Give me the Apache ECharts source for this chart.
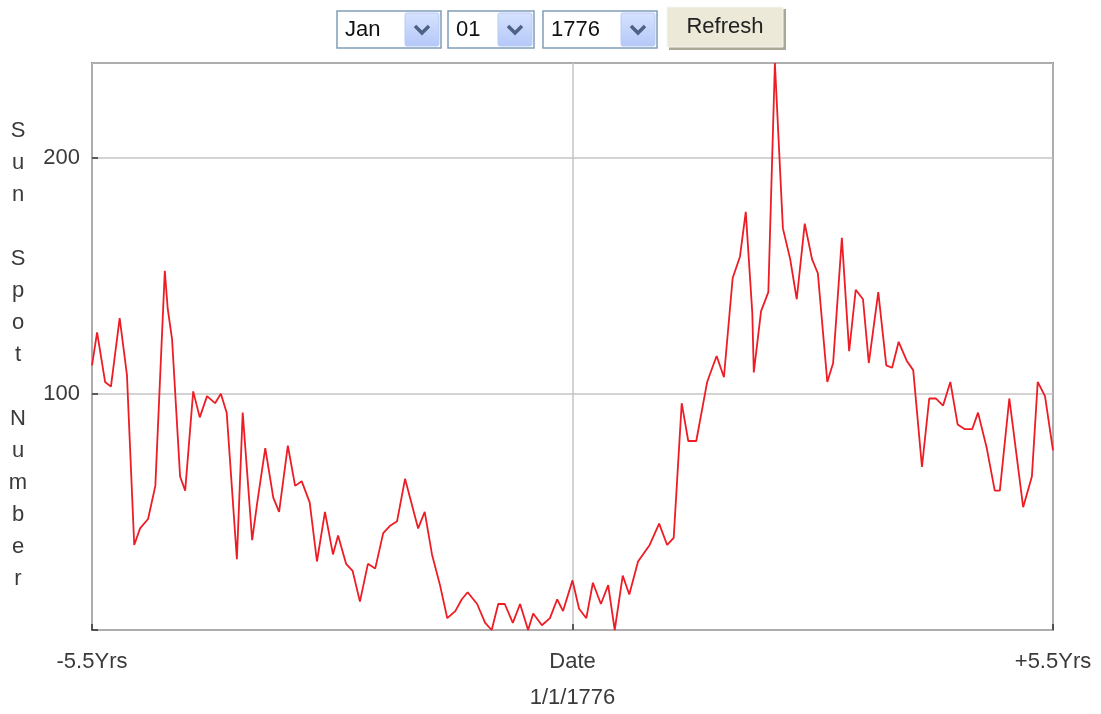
<!DOCTYPE html>
<html>
<head>
<meta charset="utf-8">
<script src="https://cdn.jsdelivr.net/npm/echarts@6/dist/echarts.min.js"></script>
<style>
html,body{margin:0;padding:0;background:#fff;}
#chart{width:1101px;height:714px;}
</style>
</head>
<body>
<div id="chart"></div>
<script>
// months relative to 1 Jan 1776
const monthOffset = [-66.0,-65.3,-64.2,-63.4,-62.2,-61.2,-60.2,-59.4,-58.3,-57.3,
  -56.0,-55.6,-55.0,-53.9,-53.2,-52.1,-51.2,-50.2,-49.1,-48.3,
  -47.5,-46.1,-45.3,-44.6,-44.0,-43.3,-42.2,-41.1,-40.3,-39.1,
  -38.1,-37.2,-36.1,-35.1,-34.0,-32.9,-32.2,-31.1,-30.2,-29.2,
  -28.1,-27.1,-26.0,-25.1,-24.1,-23.0,-21.2,-20.3,-19.3,-18.2,
  -17.2,-16.1,-15.2,-14.4,-13.1,-12.0,-11.1,-10.2,-9.3,-8.2,
  -7.2,-6.1,-5.4,-4.2,-3.1,-2.1,-1.3,0.0,0.9,1.9,
  2.8,3.9,4.9,5.8,6.9,7.8,9.0,10.6,11.9,13.0,
  13.9,15.0,15.9,17.0,18.5,19.2,19.8,20.8,22.0,23.0,
  23.8,24.7,24.9,25.9,26.9,27.8,28.9,29.9,30.8,31.9,
  32.9,33.7,35.0,35.8,37.0,38.0,38.9,39.9,40.7,42.0,
  43.1,43.9,44.8,45.9,46.8,48.0,49.0,49.9,50.9,51.9,
  52.9,53.9,54.9,55.7,56.9,58.0,58.7,60.0,61.9,63.1,
  63.9,64.9,66.0];
const sunSpots = [112,126,105,103,132,108,36,43,47,61,
  152,136,123,65,59,101,90,99,96,100,
  92,30,92,63,38,54,77,56,50,78,
  61,63,54,29,50,32,40,28,25,12,
  28,26,41,44,46,64,43,50,32,19,
  5,8,13,16,11,3,0,11,11,3,
  11,0,7,2,5,13,8,21,9,5,
  20,11,19,0,23,15,29,36,45,36,
  39,96,80,80,105,111,116,107,149,158,
  177,134,109,135,143,240,170,157,140,172,
  157,151,105,113,166,118,144,140,113,143,
  112,111,122,114,110,69,98,98,95,105,
  87,85,85,92,77,59,59,98,52,65,
  105,99,76];
const xTickLabels = {'-66':'-5.5Yrs','0':'Date','66':'+5.5Yrs'};
const yTickValues = [100, 200];
const centerDate = '1/1/1776';
const yTitle = 'Sun Spot Number';
const months = ['Jan'];
const days = ['01'];
const years = ['1776'];

const FONT = 'Liberation Sans, Arial, sans-serif';
const chart = echarts.init(document.getElementById('chart'), null, {renderer:'canvas'});

function selectBox(x, w, label){
  const btnW = 34;
  return [
    {type:'rect', shape:{x:x, y:11, width:w, height:37}, style:{fill:'#fff', stroke:'#7f9db9', lineWidth:1.5}},
    {type:'rect', shape:{x:x+w-btnW-2, y:13, width:btnW, height:33, r:2},
      style:{fill:new echarts.graphic.LinearGradient(0,0,0,1,[{offset:0,color:'#d6e2fe'},{offset:1,color:'#b4c8f8'}]), stroke:'#b9cbf3', lineWidth:1}},
    {type:'polyline', shape:{points:[[x+w-btnW-2+10,26],[x+w-btnW-2+17,33],[x+w-btnW-2+24,26]]},
      style:{stroke:'#4d6185', lineWidth:3.5, fill:null}},
    {type:'text', x:x+8, y:30, style:{text:label, font:'22px '+FONT, fill:'#111', verticalAlign:'middle', textAlign:'left'}}
  ];
}

const g = [].concat(
  selectBox(337, 104, months[0]),
  selectBox(448, 86, days[0]),
  selectBox(543, 114, years[0]),
  [
    {type:'rect', shape:{x:669, y:9, width:117, height:41}, style:{fill:'#a9a795'}},
    {type:'rect', shape:{x:667, y:7, width:116, height:40}, style:{fill:'#ece9d8', stroke:'#f7f6ef', lineWidth:1}},
    {type:'text', x:725, y:27, style:{text:'Refresh', font:'22px '+FONT, fill:'#222', textAlign:'center', verticalAlign:'middle'}},
    {type:'text', x:18, y:355, style:{text:yTitle.split('').join('\n').replace(/\n \n/g,'\n\n'),
      font:'22px '+FONT, fill:'#3a3a3a', lineHeight:32, align:'center', verticalAlign:'middle'}}
  ]
);

const option = {
  animation:false,
  backgroundColor:'#fff',
  grid:{left:92, right:48, top:63, bottom:82, show:true, borderColor:'#3a3a3a', borderWidth:1.5, backgroundColor:'transparent'},
  xAxis:{
    type:'value', min:-66, max:66, interval:66,
    axisLine:{show:false, onZero:false},
    axisTick:{show:true, inside:true, length:6, lineStyle:{color:'#333', width:1.5}},
    splitLine:{show:true, lineStyle:{color:'#c4c4c4', width:1.5}},
    axisLabel:{margin:21, fontSize:22, fontFamily:FONT, color:'#3a3a3a',
      formatter:function(v){ return xTickLabels[String(v)] || ''; }},
    name:centerDate, nameLocation:'middle', nameGap:57,
    nameTextStyle:{fontSize:22, fontFamily:FONT, color:'#3a3a3a'}
  },
  yAxis:{
    type:'value', min:0, max:240, interval:100,
    axisLine:{show:false, onZero:false},
    axisTick:{show:true, inside:true, length:6, lineStyle:{color:'#333', width:1.5}},
    splitLine:{show:true, lineStyle:{color:'#c4c4c4', width:1.5}},
    axisLabel:{margin:12, fontSize:22, fontFamily:FONT, color:'#3a3a3a', showMaxLabel:false,
      formatter:function(v){ return yTickValues.indexOf(v) >= 0 ? String(v) : ''; }}
  },
  series:[{
    type:'line', showSymbol:false, symbol:'none',
    data: monthOffset.map(function(m,i){ return [m, sunSpots[i]]; }),
    lineStyle:{color:'#ee1c24', width:1.8},
    clip:true
  }],
  graphic:g
};
chart.setOption(option);
</script>
</body>
</html>
